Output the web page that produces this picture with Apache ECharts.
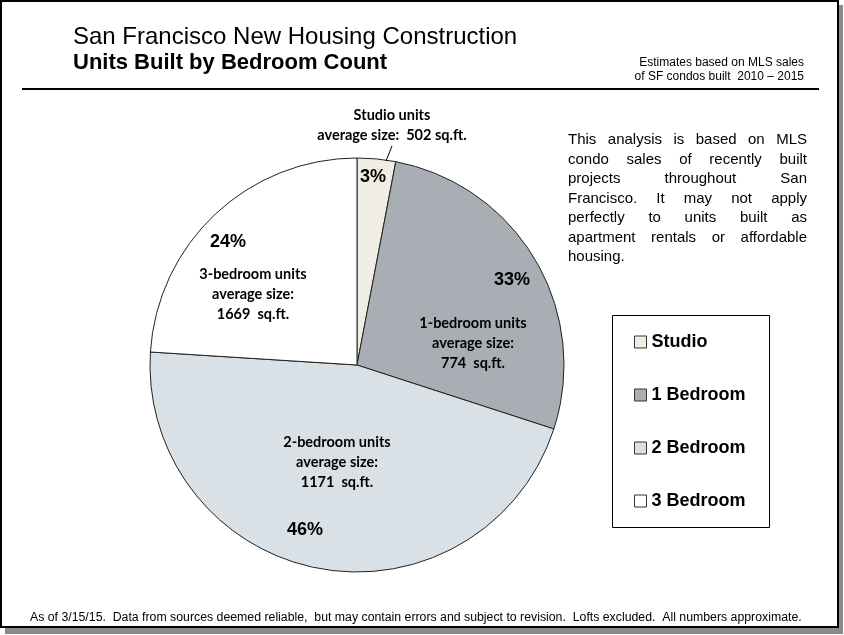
<!DOCTYPE html>
<html>
<head>
<meta charset="utf-8">
<script src="https://cdn.jsdelivr.net/npm/echarts@6/dist/echarts.min.js"></script>
<style>
html, body { margin: 0; padding: 0; background: #fff; }
#chart { width: 844px; height: 635px; }
</style>
</head>
<body>
<div id="chart"></div>
<script>
// slice sizes as drawn in the picture, and the percents printed on them
const categories = ["Studio", "1 Bedroom", "2 Bedroom", "3 Bedroom"];
const shares = [3, 27, 46, 24];
const shareLabels = ["3%", "33%", "46%", "24%"];
const unitNames = ["Studio units", "1-bedroom units", "2-bedroom units", "3-bedroom units"];
const avgSizes = [502, 774, 1171, 1669];
const colors = ["#f0eee4", "#a9adb4", "#d9e1e6", "#ffffff"];

const noteLines = [
  "This analysis is based on MLS",
  "condo sales of recently built",
  "projects throughout San",
  "Francisco. It may not apply",
  "perfectly to units built as",
  "apartment rentals or affordable",
  "housing."
];

const SANS = "'Liberation Sans', Arial, sans-serif";
const LABEL_FONT = "bold 14.5px Lato, sans-serif";
const PCT_FONT = "bold 18px " + SANS;

// justified paragraph, one text element per word
const ctx2d = document.createElement("canvas").getContext("2d");
function justified(lines, x0, x1, y0, lh, font) {
  ctx2d.font = font;
  const out = [];
  lines.forEach(function (line, i) {
    const y = y0 + i * lh;
    const words = line.split(" ");
    if (i === lines.length - 1 || words.length === 1) {
      out.push({ type: "text", x: x0, y: y, z: 10,
        style: { text: line, font: font, fill: "#000", textVerticalAlign: "middle" } });
      return;
    }
    const widths = words.map(function (w) { return ctx2d.measureText(w).width; });
    const total = widths.reduce(function (a, b) { return a + b; }, 0);
    const gap = (x1 - x0 - total) / (words.length - 1);
    let x = x0;
    words.forEach(function (w, j) {
      out.push({ type: "text", x: x, y: y, z: 10,
        style: { text: w, font: font, fill: "#000", textVerticalAlign: "middle" } });
      x += widths[j] + gap;
    });
  });
  return out;
}

function txt(x, y, text, font, align, lh) {
  return { type: "text", x: x, y: y, z: 10,
    style: { text: text, font: font, fill: "#000", textAlign: align || "left",
      textVerticalAlign: "middle", lineHeight: lh || undefined } };
}

function sizeLabel(i) {
  return unitNames[i] + "\naverage size:\n" + avgSizes[i] + "  sq.ft.";
}

const chart = echarts.init(document.getElementById("chart"));

const graphics = [
  // shadow + frame
  { type: "rect", z: 0, shape: { x: 5, y: 5, width: 838, height: 629 },
    style: { fill: "#8a8a8a" } },
  { type: "rect", z: 0, shape: { x: 1, y: 1, width: 837, height: 626 },
    style: { fill: "#fff", stroke: "#000", lineWidth: 2 } },
  { type: "line", z: 1, shape: { x1: 22, y1: 89, x2: 819, y2: 89 },
    style: { stroke: "#000", lineWidth: 2 } },
  txt(73, 37, "San Francisco New Housing Construction", "24px " + SANS),
  txt(73, 63, "Units Built by Bedroom Count", "bold 22px " + SANS),
  txt(804, 63, "Estimates based on MLS sales", "12px " + SANS, "right"),
  txt(804, 77, "of SF condos built  2010 – 2015", "12px " + SANS, "right"),
  txt(30, 618, "As of 3/15/15.  Data from sources deemed reliable,  but may contain errors and subject to revision.  Lofts excluded.  All numbers approximate.", "12.3px " + SANS),
  // legend box
  { type: "rect", z: 1, shape: { x: 612.5, y: 315.5, width: 157, height: 212 },
    style: { fill: "none", stroke: "#000", lineWidth: 1 } },
  // studio leader line
  { type: "line", z: 5, shape: { x1: 392, y1: 146, x2: 386, y2: 161 },
    style: { stroke: "#000", lineWidth: 1 } },
  // slice descriptions
  txt(392, 125, "Studio units\naverage size:  " + avgSizes[0] + " sq.ft.", LABEL_FONT, "center", 20),
  txt(473, 343, sizeLabel(1), LABEL_FONT, "center", 20),
  txt(337, 462, sizeLabel(2), LABEL_FONT, "center", 20),
  txt(253, 294, sizeLabel(3), LABEL_FONT, "center", 20),
  // printed percents
  txt(373, 177, shareLabels[0], PCT_FONT, "center"),
  txt(512, 280, shareLabels[1], PCT_FONT, "center"),
  txt(305, 530, shareLabels[2], PCT_FONT, "center"),
  txt(228, 242, shareLabels[3], PCT_FONT, "center")
].concat(justified(noteLines, 568, 807, 140, 19.5, "15px " + SANS));

chart.setOption({
  animation: false,
  graphic: { elements: graphics },
  legend: {
    orient: "vertical",
    left: 634,
    top: 333,
    padding: 0,
    itemWidth: 12,
    itemHeight: 12,
    itemGap: 35,
    icon: "rect",
    selectedMode: false,
    itemStyle: { borderColor: "#333", borderWidth: 1 },
    textStyle: { fontFamily: SANS, fontWeight: "bold", fontSize: 18, color: "#000" },
    data: categories
  },
  series: [{
    type: "pie",
    z: 3,
    center: [357, 365],
    radius: 207,
    startAngle: 90,
    clockwise: true,
    silent: true,
    label: { show: false },
    labelLine: { show: false },
    emphasis: { disabled: true },
    itemStyle: { borderColor: "#222", borderWidth: 1 },
    data: categories.map(function (c, i) {
      return { name: c, value: shares[i], itemStyle: { color: colors[i] } };
    })
  }]
});
</script>
</body>
</html>
